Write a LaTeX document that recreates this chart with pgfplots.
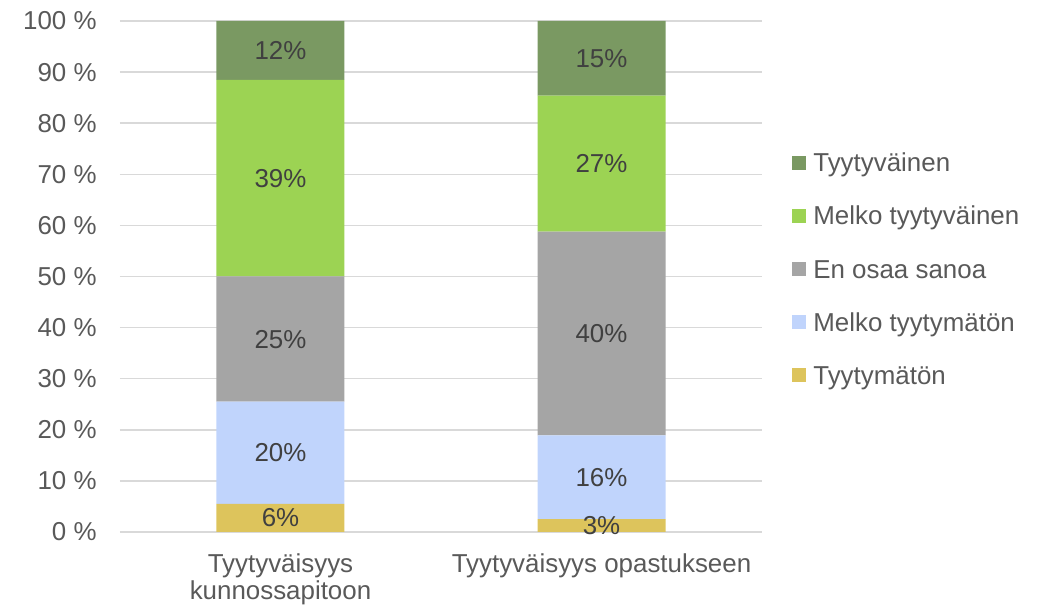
\documentclass[border=0pt]{standalone}
\usepackage{pgfplots}
\pgfplotsset{compat=1.18}
\usepackage{pgfplotstable}
\usepackage{fontspec}
\setmainfont{Liberation Sans}

\definecolor{tyyt}{HTML}{7A9962}
\definecolor{melkotyyt}{HTML}{9CD353}
\definecolor{eos}{HTML}{A5A5A5}
\definecolor{melkotym}{HTML}{C0D4FC}
\definecolor{tym}{HTML}{DDC45C}
\definecolor{txt}{HTML}{595959}
\definecolor{lbl}{HTML}{404040}
\definecolor{gridc}{HTML}{D9D9D9}

% one table per answer, x = 0 kunnossapito, 1 opastus
\pgfplotstableread{
x y lab
0 5.5 6
1 2.5 3
}\tymtab
\pgfplotstableread{
x y lab
0 20.0 20
1 16.4 16
}\melkotymtab
\pgfplotstableread{
x y lab
0 24.5 25
1 39.9 40
}\eostab
\pgfplotstableread{
x y lab
0 38.5 39
1 26.6 27
}\melkotyyttab
\pgfplotstableread{
x y lab
0 11.5 12
1 14.6 15
}\tyyttab

\begin{document}
\begin{tikzpicture}
\begin{axis}[
    scale only axis,
    width=321bp, height=255.5bp,
    ybar stacked,
    bar width=64bp,
    xmin=-0.5, xmax=1.5,
    ymin=0, ymax=100,
    xtick={0,1},
    xticklabels={{Tyytyväisyys\\kunnossapitoon},{Tyytyväisyys opastukseen}},
    ytick={0,10,...,100},
    yticklabel={\pgfmathprintnumber{\tick}~\%},
    /pgf/number format/assume math mode=true,
    tick label style={font=\fontsize{13}{13.5}\selectfont, text=txt},
    xticklabel style={align=center, yshift=-7.5bp},
    yticklabel style={inner sep=0pt, xshift=-11.5bp},
    major tick length=0pt,
    axis line style={draw=none},
    ymajorgrids,
    grid style={gridc, line width=0.75bp},
    legend style={at={(1.0467,0.51)}, anchor=west, draw=none, fill=none,
                  inner sep=0pt, row sep=14.4bp,
                  font=\fontsize{13}{15}\selectfont, text=txt,
                  nodes={inner sep=0pt, text height=9.5bp, text depth=2.7bp},
                  /tikz/every odd column/.append style={column sep=3.5bp}},
    legend cell align=left,
    legend image code/.code={\draw[#1,draw=none] (0bp,-2.3bp) rectangle (7bp,4.7bp);},
    reverse legend,
    point meta=explicit symbolic,
    nodes near coords={\pgfplotspointmeta\%},
    every node near coord/.append style={anchor=center, inner sep=0pt,
        font=\fontsize{13}{13.5}\selectfont, text=lbl},
]
\addplot[fill=tym, draw=none] table[x=x, y=y, meta=lab] {\tymtab};
\addplot[fill=melkotym, draw=none] table[x=x, y=y, meta=lab] {\melkotymtab};
\addplot[fill=eos, draw=none] table[x=x, y=y, meta=lab] {\eostab};
\addplot[fill=melkotyyt, draw=none] table[x=x, y=y, meta=lab] {\melkotyyttab};
\addplot[fill=tyyt, draw=none] table[x=x, y=y, meta=lab] {\tyyttab};
\legend{Tyytymätön, Melko tyytymätön, En osaa sanoa, Melko tyytyväinen, Tyytyväinen}
\coordinate (o) at (rel axis cs:0,0);
\end{axis}
\path (o) ++(-60bp,-38.5bp) rectangle ++(524.5bp,304.5bp);
\end{tikzpicture}
\end{document}
